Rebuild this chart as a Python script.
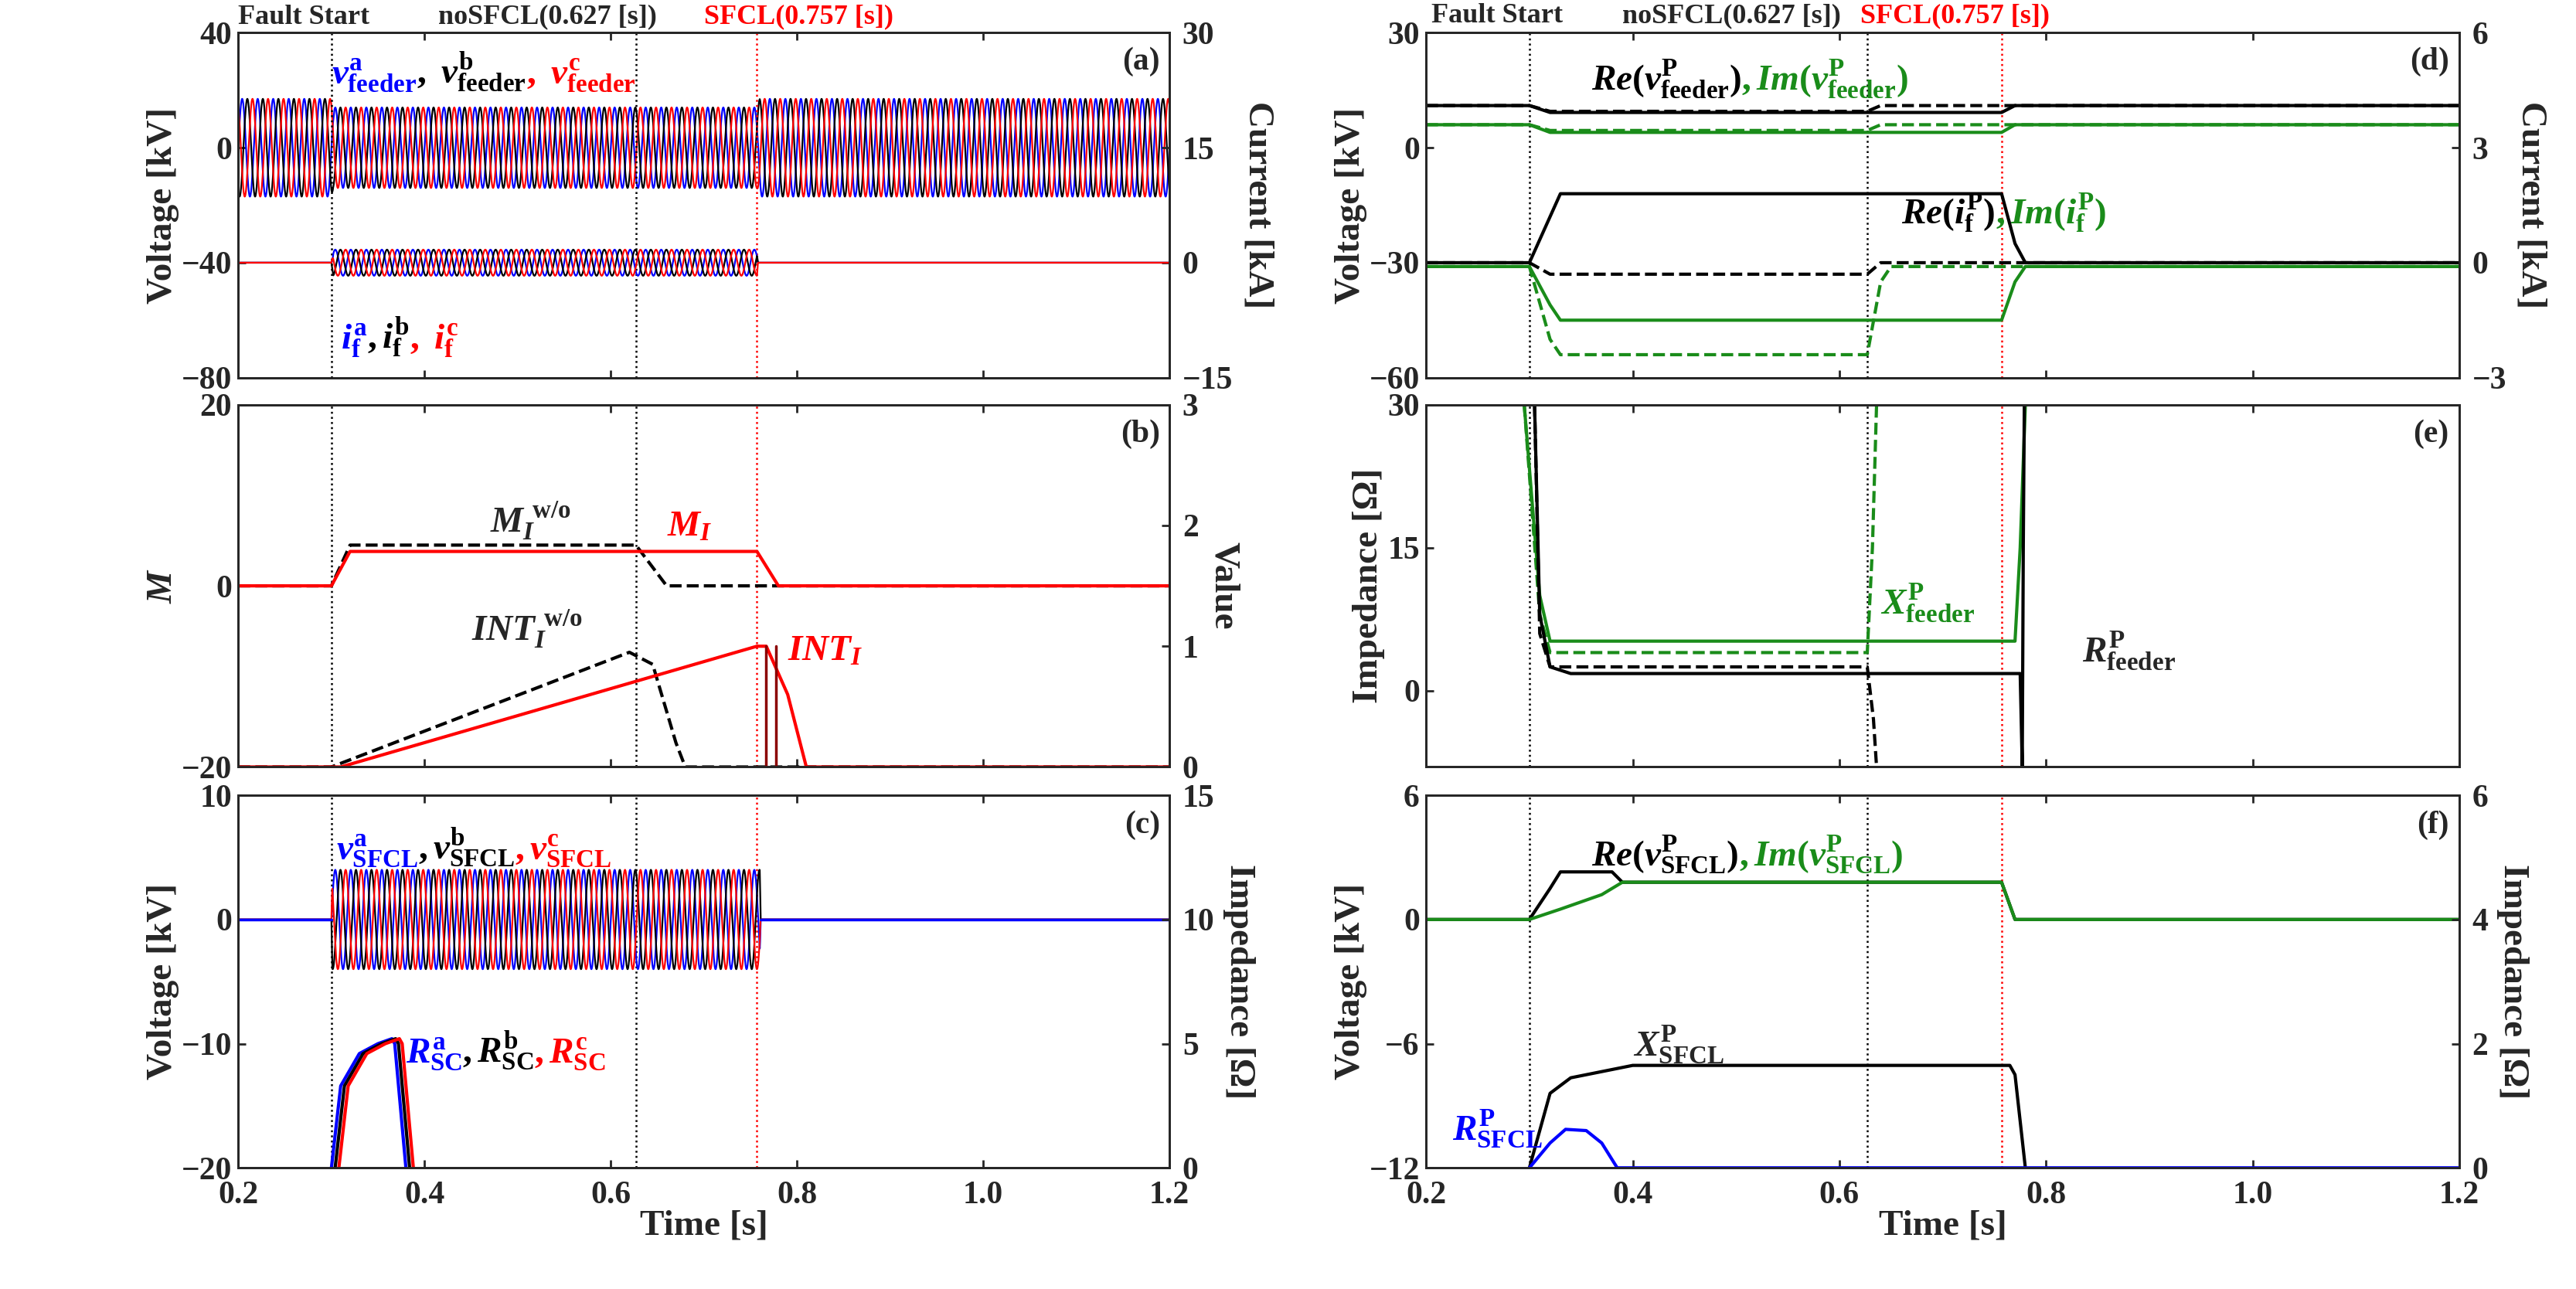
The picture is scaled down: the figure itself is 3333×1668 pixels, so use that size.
import numpy as np, pandas as pd, seaborn as sns, matplotlib
matplotlib.use("Agg")
import matplotlib.pyplot as plt

sns.set_theme(style="ticks")
plt.rcParams.update({"font.family": "Liberation Serif", "font.weight": "bold",
                     "mathtext.fontset": "custom", "mathtext.rm": "Liberation Serif:bold",
                     "mathtext.it": "Liberation Serif:bold:italic", "mathtext.bf": "Liberation Serif:bold",
                     "axes.linewidth": 2})
FS = 30
GREEN = "#1a8c1a"

# ---------------- data (breakpoints) ----------------
t_fault, t_nosfcl, t_sfcl = 0.3, 0.627, 0.757
freq = 60.0
# (a) envelope of feeder voltages [kV] and fault currents [kA]
va_t = [0.2, 0.3, 0.302, 0.757, 0.76, 1.2]; va_amp = [17, 17, 14, 14, 17, 17]
if_t = [0.2, 0.3, 0.302, 0.757, 0.758, 1.2]; if_amp = [0, 0, 1.7, 1.7, 0, 0]
# (b)
MI_t = [0.2, 0.3, 0.32, 0.757, 0.78, 1.2]; MI_v = [0, 0, 3.8, 3.8, 0, 0]
MIwo_t = [0.2, 0.3, 0.32, 0.627, 0.66, 1.2]; MIwo_v = [0, 0, 4.5, 4.5, 0, 0]
INTwo_t = [0.2, 0.3, 0.62, 0.645, 0.67, 0.68, 1.2]; INTwo_v = [0, 0, 0.95, 0.85, 0.2, 0, 0]
INT_t = [0.2, 0.31, 0.757, 0.767, 0.79, 0.81, 1.2]; INT_v = [0, 0, 1.0, 1.0, 0.6, 0, 0]
# (c)
vs_t = [0.2, 0.3, 0.301, 0.76, 0.761, 1.2]; vs_amp = [0, 0, 4, 4, 0, 0]
Rsc_t = [0.3, 0.31, 0.33, 0.35, 0.365, 0.368, 0.38]
Rsc_a = [0, 3.3, 4.6, 5.0, 5.2, 5.0, 0]
# (d)
Rev_t = [0.2, 0.3, 0.32, 0.757, 0.77, 1.2]; Rev = [11, 11, 9.2, 9.2, 11, 11]
Revwo_t = [0.2, 0.3, 0.32, 0.627, 0.64, 1.2]; Revwo = [11, 11, 9.5, 9.5, 11, 11]
Imv_t = [0.2, 0.3, 0.32, 0.757, 0.77, 1.2]; Imv = [6, 6, 4, 4, 6, 6]
Imvwo_t = [0.2, 0.3, 0.32, 0.627, 0.64, 1.2]; Imvwo = [6, 6, 4.5, 4.5, 6, 6]
Rei_t = [0.2, 0.3, 0.32, 0.33, 0.757, 0.77, 0.78, 1.2]; Rei = [0, 0, 1.2, 1.8, 1.8, 0.5, 0, 0]
Reiwo_t = [0.2, 0.3, 0.32, 0.627, 0.64, 1.2]; Reiwo = [0, 0, -0.3, -0.3, 0, 0]
Imi_t = [0.2, 0.3, 0.32, 0.33, 0.757, 0.77, 0.78, 1.2]; Imi = [-0.1, -0.1, -1.1, -1.5, -1.5, -0.5, -0.1, -0.1]
Imiwo_t = [0.2, 0.3, 0.32, 0.33, 0.627, 0.64, 0.65, 1.2]; Imiwo = [-0.1, -0.1, -2.0, -2.4, -2.4, -0.5, -0.1, -0.1]
# (e)
X_t = [0.295, 0.31, 0.32, 0.77, 0.775, 0.78]; X_v = [30, 10, 5.2, 5.2, 15, 30]
Xwo_t = [0.295, 0.31, 0.32, 0.627, 0.632, 0.636]; Xwo_v = [30, 8, 4, 4, 15, 30]
R_t = [0.305, 0.31, 0.32, 0.34, 0.775, 0.777, 0.778, 0.779]; R_v = [30, 8, 2.5, 1.8, 1.8, -8, 15, 30]
Rwo_t = [0.305, 0.31, 0.32, 0.627, 0.633, 0.636]; Rwo_v = [30, 6, 2.5, 2.5, -3, -8]
# (f)
Rvs_t = [0.2, 0.3, 0.32, 0.33, 0.38, 0.39, 0.757, 0.77, 1.2]; Rvs = [0, 0, 1.5, 2.3, 2.3, 1.8, 1.8, 0, 0]
Ivs_t = [0.2, 0.3, 0.33, 0.37, 0.39, 0.757, 0.77, 1.2]; Ivs = [0, 0, 0.5, 1.2, 1.8, 1.8, 0, 0]
Xs_t = [0.3, 0.32, 0.34, 0.4, 0.765, 0.77, 0.78]; Xs = [0, 1.2, 1.45, 1.65, 1.65, 1.5, 0]
Rs_t = [0.3, 0.32, 0.335, 0.355, 0.37, 0.385, 1.2]; Rs = [0, 0.4, 0.62, 0.6, 0.4, 0, 0]

fig = plt.figure(figsize=(33.33, 16.68), dpi=100)
L = [0.0925, 0.454]; R = [0.5536, 0.9547]
rows = [(0.707, 0.9746), (0.405, 0.686), (0.094, 0.383)]
def mk(col, r):
    x0, x1 = col; y0, y1 = rows[r]
    return fig.add_axes([x0, y0, x1 - x0, y1 - y0])

def line(ax, t, y, color, ls="-", lw=3):
    sns.lineplot(x=t, y=y, ax=ax, color=color, linestyle=ls, lw=lw, legend=False)

def wave(ax, et, ea, offset, tmin, tmax):
    t = np.linspace(tmin, tmax, 40000)
    env = np.interp(t, et, ea)
    for ph, c in zip([0, -2*np.pi/3, 2*np.pi/3], ["blue", "black", "red"]):
        df = pd.DataFrame({"t": t, "v": offset + env*np.sin(2*np.pi*freq*t + ph)})
        sns.lineplot(data=df, x="t", y="v", ax=ax, color=c, lw=1.6, legend=False)

def chain(ax, x, y, parts, fs=FS+4, va="baseline"):
    t = ax.text(x, y, parts[0][0], color=parts[0][1], fontsize=fs, va=va)
    for s, c in parts[1:]:
        t = ax.annotate(s, xy=(1, 0), xycoords=t, color=c, fontsize=fs, va="bottom")
    return t

def style(ax, yl, yt, ylab, r2lim, r2t, r2lab, letter, bottom):
    ax.set_xlim(0.2, 1.2); ax.set_ylim(*yl); ax.set_yticks(yt)
    ax.set_xticks([0.2, 0.4, 0.6, 0.8, 1.0, 1.2])
    ax.set_ylabel(ylab, fontsize=FS+4, fontweight="bold", labelpad=2)
    ax.tick_params(labelsize=FS, width=2, length=7, direction="in", top=True, pad=6)
    ax.tick_params(axis="x", pad=12)
    if bottom:
        ax.set_xlabel("Time [s]", fontsize=FS+4, fontweight="bold", labelpad=0)
    else:
        ax.set_xticklabels([]); ax.set_xlabel("")
    for tl in ax.get_xticklabels()+ax.get_yticklabels(): tl.set_fontweight("bold")
    a2 = ax.twinx(); a2.set_ylim(*r2lim); a2.set_yticks(r2t)
    a2.set_ylabel(r2lab, fontsize=FS+4, fontweight="bold", rotation=270, labelpad=38)
    a2.tick_params(labelsize=FS, width=2, length=7, direction="in", pad=12)
    for tl in a2.get_yticklabels(): tl.set_fontweight("bold")
    for x, c in [(t_fault, "black"), (t_nosfcl, "black"), (t_sfcl, "red")]:
        ax.axvline(x, color=c, ls=":", lw=1.8)
    ax.text(0.99, 0.96, letter, transform=ax.transAxes, ha="right", va="top", fontsize=FS)
    return a2

def header(ax, y, xs):
    ax.text(xs[0], y, "Fault Start", fontsize=FS-4, fontweight="bold", va="bottom")
    ax.text(xs[1], y, "noSFCL(0.627 [s])", fontsize=FS-4, fontweight="bold", va="bottom")
    ax.text(xs[2], y, "SFCL(0.757 [s])", fontsize=FS-4, fontweight="bold", va="bottom", color="red")

# ---- (a)
ax = mk(L, 0)
wave(ax, va_t, va_amp, 0, 0.2, 1.2)
a2 = style(ax, (-80, 40), [-80, -40, 0, 40], "Voltage [kV]", (-15, 30), [-15, 0, 15, 30], "Current [kA]", "(a)", False)
wave(a2, if_t, if_amp, 0, 0.2, 1.2)
chain(ax, 0.3, 22, [(r"$v^{\rm a}_{\rm feeder}$", "blue"), (r"$,\ v^{\rm b}_{\rm feeder}$", "black"), (r"$,\ v^{\rm c}_{\rm feeder}$", "red")])
chain(ax, 0.31, -70, [(r"$i^{\rm a}_{\rm f}$", "blue"), (r"$,i^{\rm b}_{\rm f}$", "black"), (r"$,\ i^{\rm c}_{\rm f}$", "red")])
header(ax, 41, [0.2, 0.415, 0.7])

# ---- (b)
ax = mk(L, 1)
a2 = style(ax, (-20, 20), [-20, 0, 20], "$M$", (0, 3), [0, 1, 2, 3], "Value", "(b)", False)
line(ax, MIwo_t, MIwo_v, "black", "--")
line(ax, MI_t, MI_v, "red")
line(a2, INTwo_t, INTwo_v, "black", "--")
line(a2, INT_t, INT_v, "red")
a2.plot([0.767, 0.767], [0, 1.0], color="#8b0000", lw=2.5)
a2.plot([0.777, 0.777], [0, 1.0], color="#8b0000", lw=2.5)
ax.text(0.47, 6, r"$M_I^{\ \rm w/o}$", fontsize=FS+4)
ax.text(0.66, 5.5, r"$M_I$", color="red", fontsize=FS+4)
a2.text(0.45, 1.05, r"$INT_I^{\ \rm w/o}$", fontsize=FS+4)
a2.text(0.79, 0.88, r"$INT_I$", color="red", fontsize=FS+4)

# ---- (c)
ax = mk(L, 2)
a2 = style(ax, (-20, 10), [-20, -10, 0, 10], "Voltage [kV]", (0, 15), [0, 5, 10, 15], "Impedance [\u03a9]", "(c)", True)
wave(ax, vs_t, vs_amp, 0, 0.2, 1.2)
line(ax, [0.2, 0.3], [0, 0], "blue", lw=2.5); line(ax, [0.761, 1.2], [0, 0], "blue", lw=2.5)
for dt, c in [(0.0, "blue"), (0.004, "black"), (0.008, "red")]:
    line(a2, np.array(Rsc_t) + dt, Rsc_a, c)
chain(ax, 0.305, 4.8, [(r"$v^{\rm a}_{\rm SFCL}$", "blue"), (r"$,v^{\rm b}_{\rm SFCL}$", "black"), (r"$,v^{\rm c}_{\rm SFCL}$", "red")])
chain(a2, 0.38, 4.2, [(r"$R^{\rm a}_{\rm SC}$", "blue"), (r"$,R^{\rm b}_{\rm SC}$", "black"), (r"$,R^{\rm c}_{\rm SC}$", "red")])

# ---- (d)
ax = mk(R, 0)
a2 = style(ax, (-60, 30), [-60, -30, 0, 30], "Voltage [kV]", (-3, 6), [-3, 0, 3, 6], "Current [kA]", "(d)", False)
line(ax, Revwo_t, Revwo, "black", "--"); line(ax, Rev_t, Rev, "black")
line(ax, Imvwo_t, Imvwo, GREEN, "--"); line(ax, Imv_t, Imv, GREEN)
line(a2, Reiwo_t, Reiwo, "black", "--"); line(a2, Rei_t, Rei, "black")
line(a2, Imiwo_t, Imiwo, GREEN, "--"); line(a2, Imi_t, Imi, GREEN)
chain(ax, 0.36, 15, [(r"$Re(v^{\rm P}_{\rm feeder})$", "black"), (r"$,Im(v^{\rm P}_{\rm feeder})$", GREEN)])
chain(ax, 0.66, -20, [(r"$Re(i^{\rm P}_{\rm f})$", "black"), (r"$,Im(i^{\rm P}_{\rm f})$", GREEN)])
header(ax, 31, [0.205, 0.39, 0.62])

# ---- (e)
ax = mk(R, 1)
a2 = style(ax, (-8, 30), [0, 15, 30], "Impedance [\u03a9]", (-8, 30), [], "", "(e)", False)
a2.set_yticks([])
line(ax, Xwo_t, Xwo_v, GREEN, "--"); line(ax, X_t, X_v, GREEN)
line(ax, Rwo_t, Rwo_v, "black", "--"); line(ax, R_t, R_v, "black")
ax.text(0.64, 8, r"$X^{\rm P}_{\rm feeder}$", color=GREEN, fontsize=FS+4)
ax.text(0.835, 3, r"$R^{\rm P}_{\rm feeder}$", fontsize=FS+4)

# ---- (f)
ax = mk(R, 2)
a2 = style(ax, (-12, 6), [-12, -6, 0, 6], "Voltage [kV]", (0, 6), [0, 2, 4, 6], "Impedance [\u03a9]", "(f)", True)
line(ax, Rvs_t, Rvs, "black"); line(ax, Ivs_t, Ivs, GREEN)
line(a2, Xs_t, Xs, "black"); line(a2, Rs_t, Rs, "blue")
chain(ax, 0.36, 2.6, [(r"$Re(v^{\rm P}_{\rm SFCL})$", "black"), (r"$,Im(v^{\rm P}_{\rm SFCL})$", GREEN)])
a2.text(0.4, 1.8, r"$X^{\rm P}_{\rm SFCL}$", fontsize=FS+4)
a2.text(0.225, 0.45, r"$R^{\rm P}_{\rm SFCL}$", color="blue", fontsize=FS+4)

fig.savefig("out.png", dpi=100)
